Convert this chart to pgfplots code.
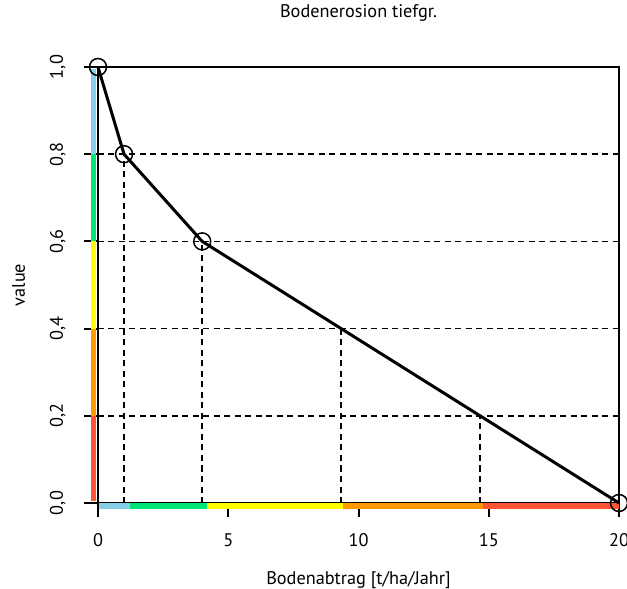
\documentclass[border=0pt]{standalone}
\usepackage{fontspec}
\setmainfont{PT Sans}
\usepackage{pgfplots}
\pgfplotsset{compat=1.18}
\definecolor{cLB}{HTML}{87CEEB}
\definecolor{cGR}{HTML}{00E676}
\definecolor{cYE}{HTML}{FFFF00}
\definecolor{cOR}{HTML}{FF9900}
\definecolor{cRD}{HTML}{FF5533}
\begin{document}
\fontsize{11pt}{13pt}\selectfont
\begin{tikzpicture}
\begin{axis}[
  name=ax,
  scale only axis,
  width=312.6bp, height=261.6bp,
  xmin=0, xmax=20, ymin=0, ymax=1,
  clip=false,
  axis line style={line width=1.2bp},
  tick style={line width=1.2bp, black},
  tick align=outside,
  major tick length=8.4bp,
  xtick pos=bottom, ytick pos=left,
  xtick={0,5,10,15,20},
  ytick={0,0.2,0.4,0.6,0.8,1},
  /pgf/number format/assume math mode=true,
  yticklabel style={xshift=-12.6bp, rotate=90, anchor=base, inner sep=0pt,
    /pgf/number format/.cd, use comma, fixed, fixed zerofill, precision=1},
  xticklabel style={yshift=-17.4bp, anchor=base, inner sep=0pt},
  title={Bodenerosion tiefgr.},
  title style={at={(axis description cs:0.5,1)}, anchor=base, yshift=24bp, inner sep=0pt},
  xlabel={Bodenabtrag [t/ha/Jahr]},
  xlabel style={at={(axis description cs:0.5,0)}, anchor=base, yshift=-48.6bp, inner sep=0pt},
  ylabel={value},
  every axis y label/.style={at={([xshift=-43.8bp]rel axis cs:0,0.5)}, rotate=90, anchor=base, inner sep=0pt},
]
% colour bars along y axis
\addplot[cRD, line width=3bp, forget plot] coordinates {(-0.19,0.005) (-0.19,0.2)};
\addplot[cOR, line width=3bp, forget plot] coordinates {(-0.19,0.2) (-0.19,0.4)};
\addplot[cYE, line width=3bp, forget plot] coordinates {(-0.19,0.4) (-0.19,0.6)};
\addplot[cGR, line width=3bp, forget plot] coordinates {(-0.19,0.6) (-0.19,0.8)};
\addplot[cLB, line width=3bp, forget plot] coordinates {(-0.19,0.8) (-0.19,0.995)};
% colour bars along x axis
\addplot[cLB, line width=3.6bp, forget plot] coordinates {(0.03,-0.008) (1.23,-0.008)};
\addplot[cGR, line width=3.6bp, forget plot] coordinates {(1.23,-0.008) (4.2,-0.008)};
\addplot[cYE, line width=3.6bp, forget plot] coordinates {(4.2,-0.008) (9.39,-0.008)};
\addplot[cOR, line width=3.6bp, forget plot] coordinates {(9.39,-0.008) (14.78,-0.008)};
\addplot[cRD, line width=3.6bp, forget plot] coordinates {(14.78,-0.008) (20,-0.008)};
% dashed guide lines
\addplot[black, line width=1.05bp, dash pattern=on 3.6bp off 2.7bp, forget plot] coordinates {(0,0.8) (20,0.8)};
\addplot[black, line width=1.05bp, dash pattern=on 3.6bp off 2.7bp, forget plot] coordinates {(0,0.6) (20,0.6)};
\addplot[black, line width=1.05bp, dash pattern=on 3.6bp off 2.7bp, forget plot] coordinates {(0,0.4) (20,0.4)};
\addplot[black, line width=1.05bp, dash pattern=on 3.6bp off 2.7bp, forget plot] coordinates {(0,0.2) (20,0.2)};
\addplot[black, line width=1.05bp, dash pattern=on 3.6bp off 2.7bp, forget plot] coordinates {(1,0) (1,0.8)};
\addplot[black, line width=1.05bp, dash pattern=on 3.6bp off 2.7bp, forget plot] coordinates {(4,0) (4,0.6)};
\addplot[black, line width=1.05bp, dash pattern=on 3.6bp off 2.7bp, forget plot] coordinates {(9.333,0) (9.333,0.4)};
\addplot[black, line width=1.05bp, dash pattern=on 3.6bp off 2.7bp, forget plot] coordinates {(14.667,0) (14.667,0.2)};
% curve
\addplot[black, line width=1.8bp, mark=o, mark size=5.1bp, mark options={solid, line width=0.9bp}] coordinates {(0,1) (1,0.8) (4,0.6) (20,0)};
\end{axis}
\pgfresetboundingbox
\path[use as bounding box] ([shift={(-58.8bp,-51.6bp)}]ax.south west) rectangle ([shift={(4.8bp,40.2bp)}]ax.north east);
\end{tikzpicture}
\end{document}
